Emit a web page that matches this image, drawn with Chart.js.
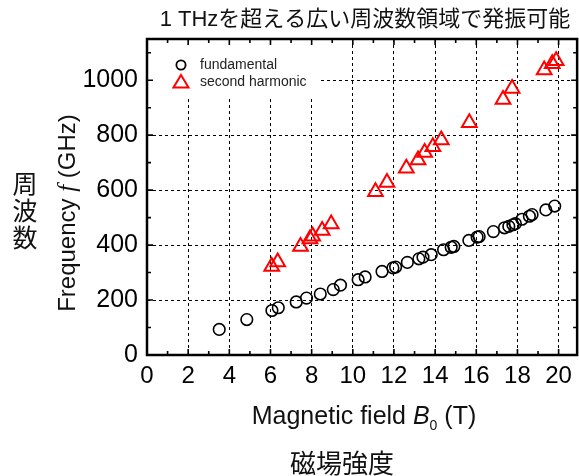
<!DOCTYPE html>
<html>
<head>
<meta charset="utf-8">
<script src="https://cdn.jsdelivr.net/npm/chart.js@4.4.0/dist/chart.umd.min.js"></script>
<style>
  html, body { margin: 0; padding: 0; background: #fff; }
  #wrap { width: 579px; height: 476px; }
</style>
</head>
<body>
<div id="wrap"><canvas id="freqChart" width="579" height="476"></canvas></div>
<script>
// data
const fundamentalB = [3.51, 4.85, 6.07, 6.38, 7.25, 7.75, 8.42, 9.05, 9.40, 10.26, 10.6, 11.42, 11.95, 12.08, 12.65, 13.21, 13.41, 13.81, 14.41, 14.78, 14.91, 15.64, 16.04, 16.14, 16.83, 17.37, 17.58, 17.78, 17.9, 18.22, 18.58, 18.71, 19.38, 19.81];
const fundamentalF = [93, 129, 162, 172, 193, 207, 222, 238, 254, 274, 284, 304, 317, 320, 337, 350, 356, 365, 383, 392, 395, 417, 429, 431, 449, 463, 468, 474, 478, 494, 505, 511, 528, 542];
const harmonicB = [6.06, 6.35, 7.46, 7.92, 8.05, 8.51, 8.95, 11.10, 11.66, 12.60, 13.17, 13.49, 13.89, 14.30, 15.66, 17.30, 17.74, 19.30, 19.69, 19.88];
const harmonicF = [322, 338, 395, 422, 432, 453, 477, 594, 628, 680, 710, 737, 758, 782, 845, 930, 970, 1037, 1060, 1071];
const xTicks = [0, 2, 4, 6, 8, 10, 12, 14, 16, 18, 20];
const yTicks = [0, 200, 400, 600, 800, 1000];
const seriesNames = ["fundamental", "second harmonic"];

const SANS = '"Liberation Sans", Arial, sans-serif';
const CJK = '"Liberation Sans", "Noto Sans CJK JP", sans-serif';

const toPoints = (xs, ys) => xs.map((x, i) => ({ x: x, y: ys[i] }));

// frame, inward ticks, legend box and all the labels
const decorPlugin = {
  id: "decor",
  beforeDatasetsDraw(chart) {
    const ctx = chart.ctx;
    const a = chart.chartArea;
    // white legend box hides the grid behind it
    ctx.save();
    ctx.fillStyle = "#fff";
    ctx.fillRect(a.left + 1, a.top + 1, 320 - a.left, 95 - a.top);
    ctx.lineWidth = 1.8;
    ctx.strokeStyle = "#000";
    ctx.beginPath();
    ctx.arc(181, 65, 4.6, 0, Math.PI * 2);
    ctx.stroke();
    ctx.strokeStyle = "#ff0000";
    ctx.lineWidth = 2;
    ctx.beginPath();
    ctx.moveTo(181, 75);
    ctx.lineTo(188.5, 87.5);
    ctx.lineTo(173.5, 87.5);
    ctx.closePath();
    ctx.stroke();
    ctx.fillStyle = "#222";
    ctx.font = "14px " + SANS;
    ctx.textBaseline = "middle";
    ctx.textAlign = "left";
    ctx.fillText(seriesNames[0], 200, 65);
    ctx.fillText(seriesNames[1], 200, 82);
    ctx.restore();
  },
  afterDraw(chart) {
    const ctx = chart.ctx;
    const a = chart.chartArea;
    const xs = chart.scales.x;
    const ys = chart.scales.y;
    ctx.save();
    ctx.strokeStyle = "#000";

    // inward ticks on all four sides
    ctx.lineWidth = 1.6;
    ctx.beginPath();
    for (let v = 1; v <= 20; v++) {
      const px = xs.getPixelForValue(v);
      const len = v % 2 === 0 ? 6 : 4;
      ctx.moveTo(px, a.bottom); ctx.lineTo(px, a.bottom - len);
      ctx.moveTo(px, a.top); ctx.lineTo(px, a.top + len);
    }
    for (let v = 100; v <= 1100; v += 100) {
      const py = ys.getPixelForValue(v);
      const len = v % 200 === 0 ? 6 : 4;
      ctx.moveTo(a.left, py); ctx.lineTo(a.left + len, py);
      ctx.moveTo(a.right, py); ctx.lineTo(a.right - len, py);
    }
    ctx.stroke();

    // frame
    ctx.lineWidth = 2.5;
    ctx.strokeRect(a.left, a.top, a.right - a.left, a.bottom - a.top);

    ctx.fillStyle = "#111";

    // title
    ctx.font = "22px " + CJK;
    ctx.textAlign = "center";
    ctx.textBaseline = "middle";
    ctx.fillText("1 THzを超える広い周波数領域で発振可能", 365, 20);

    // x axis title with italic B and subscript 0
    ctx.textAlign = "left";
    ctx.textBaseline = "alphabetic";
    const parts = [
      { t: "Magnetic field ", f: "25px " + SANS, dy: 0 },
      { t: "B", f: "italic 25px " + SANS, dy: 0 },
      { t: "0", f: "14px " + SANS, dy: 6 },
      { t: " (T)", f: "25px " + SANS, dy: 0 },
    ];
    let total = 0;
    parts.forEach((p) => { ctx.font = p.f; p.w = ctx.measureText(p.t).width; total += p.w; });
    let cx = 364 - total / 2;
    parts.forEach((p) => { ctx.font = p.f; ctx.fillText(p.t, cx, 424 + p.dy); cx += p.w; });

    // y axis title, rotated, italic f
    ctx.save();
    ctx.translate(75, 213);
    ctx.rotate(-Math.PI / 2);
    const yparts = [
      { t: "Frequency ", f: "24px " + SANS },
      { t: "f", f: "italic 25px \"Liberation Serif\", serif" },
      { t: " (GHz)", f: "24px " + SANS },
    ];
    total = 0;
    yparts.forEach((p) => { ctx.font = p.f; p.w = ctx.measureText(p.t).width; total += p.w; });
    cx = -total / 2;
    yparts.forEach((p) => { ctx.font = p.f; ctx.fillText(p.t, cx, 0); cx += p.w; });
    ctx.restore();

    // japanese labels
    ctx.font = '26px "Noto Sans CJK JP", sans-serif';
    ctx.textAlign = "center";
    ctx.textBaseline = "middle";
    ctx.fillText("磁場強度", 342, 463);
    ctx.font = '25px "Noto Sans CJK JP", sans-serif';
    ["周", "波", "数"].forEach((ch, i) => ctx.fillText(ch, 25, 183 + i * 27));
    ctx.restore();
  },
};

function initChart() {
  const ctx = document.getElementById("freqChart").getContext("2d");
  new Chart(ctx, {
    type: "scatter",
    data: {
      datasets: [
        {
          label: seriesNames[0],
          data: toPoints(fundamentalB, fundamentalF),
          pointStyle: "circle",
          pointRadius: 5.8,
          pointBorderWidth: 1.6,
          borderColor: "#000",
          backgroundColor: "rgba(0,0,0,0)",
        },
        {
          label: seriesNames[1],
          data: toPoints(harmonicB, harmonicF),
          pointStyle: "triangle",
          pointRadius: 8.5,
          pointBorderWidth: 2,
          borderColor: "#ff0000",
          backgroundColor: "rgba(0,0,0,0)",
        },
      ],
    },
    options: {
      responsive: false,
      animation: false,
      devicePixelRatio: 1,
      layout: { autoPadding: false, padding: { left: 0, top: 39, right: 1, bottom: 0 } },
      plugins: {
        legend: { display: false },
        tooltip: { enabled: false },
        title: { display: false },
      },
      scales: {
        x: {
          type: "linear",
          min: 0,
          max: 20.9,
          afterBuildTicks: (s) => { s.ticks = xTicks.map((v) => ({ value: v })); },
          afterFit: (s) => { s.height = 121; },
          grid: { color: "#000", lineWidth: 1, drawTicks: false },
          border: { display: false, dash: [3, 3] },
          ticks: {
            color: "#000",
            font: { size: 24, family: SANS },
            padding: 7,
            maxRotation: 0,
            autoSkip: false,
            callback: (v) => String(v),
          },
        },
        y: {
          type: "linear",
          min: 0,
          max: 1150,
          afterBuildTicks: (s) => { s.ticks = yTicks.map((v) => ({ value: v })); },
          afterFit: (s) => { s.width = 147; },
          grid: { color: "#000", lineWidth: 1, drawTicks: false },
          border: { display: false, dash: [3, 3] },
          ticks: {
            color: "#000",
            font: { size: 25, family: SANS },
            padding: 9,
            callback: (v) => String(v),
          },
        },
      },
    },
    plugins: [decorPlugin],
  });
}

if (document.readyState === "complete" || document.readyState === "interactive") {
  initChart();
} else {
  document.addEventListener("DOMContentLoaded", initChart);
}
</script>
</body>
</html>
